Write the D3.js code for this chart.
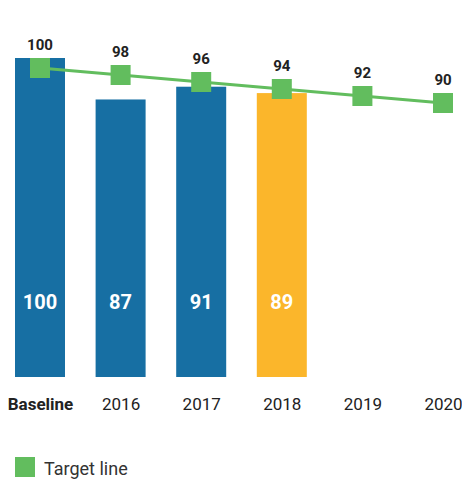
<!DOCTYPE html>
<html>
<head>
<meta charset="utf-8">
<script src="https://cdn.jsdelivr.net/npm/d3@7"></script>
<style>
    body { margin: 0; background: #fff; }
    text { font-family: Roboto, "Noto Sans", sans-serif; }
</style>
</head>
<body>
<div id="chart"></div>
<script>
// data
const categories = ["Baseline", "2016", "2017", "2018", "2019", "2020"];
const actual = [100, 87, 91, 89];
const target = [100, 98, 96, 94, 92, 90];
const highlight = "2018";

const width = 462, height = 479;

const svg = d3.select("#chart").append("svg")
    .attr("width", width)
    .attr("height", height);

// scales
let x = d3.scalePoint().domain(categories).range([40, 443]);
let y = d3.scaleLinear().domain([0, 100]).range([377, 58]);
// target markers sit on their own, slightly steeper scale
let yT = d3.scaleLinear().domain([0, 100]).range([418, 68]);

const barW = 50;

// bars
svg.append("g").selectAll("rect")
    .data(actual)
    .join("rect")
    .attr("x", (d, i) => x(categories[i]) - barW / 2)
    .attr("y", d => y(d))
    .attr("width", barW)
    .attr("height", d => y(0) - y(d))
    .attr("fill", (d, i) => categories[i] === highlight ? "#fbb62b" : "#176fa3");

// values inside bars
svg.append("g").selectAll("text")
    .data(actual)
    .join("text")
    .attr("x", (d, i) => x(categories[i]))
    .attr("y", 309)
    .attr("text-anchor", "middle")
    .attr("fill", "#fff")
    .style("font-size", "20px")
    .style("font-weight", "bold")
    .text(d => d);

// target line
let line = d3.line()
    .x((d, i) => x(categories[i]))
    .y(d => yT(d));

svg.append("path")
    .datum(target)
    .attr("d", line)
    .attr("fill", "none")
    .attr("stroke", "#62bd5e")
    .attr("stroke-width", 3);

svg.append("g").selectAll("rect")
    .data(target)
    .join("rect")
    .attr("x", (d, i) => x(categories[i]) - 10)
    .attr("y", d => yT(d) - 10)
    .attr("width", 20)
    .attr("height", 20)
    .attr("fill", "#62bd5e");

svg.append("g").selectAll("text")
    .data(target)
    .join("text")
    .attr("x", (d, i) => x(categories[i]))
    .attr("y", d => yT(d) - 18)
    .attr("text-anchor", "middle")
    .attr("fill", "#222")
    .style("font-size", "15px")
    .style("font-weight", "bold")
    .text(d => d);

// x axis labels
let xAxis = d3.axisBottom(x).tickSize(0).tickPadding(0);
let gx = svg.append("g")
    .attr("transform", "translate(0,398)")
    .call(xAxis);
gx.select(".domain").remove();
gx.selectAll("text")
    .attr("dy", "0.35em")
    .attr("y", 6)
    .attr("fill", "#222")
    .style("font-size", "17px")
    .style("font-weight", d => d === "Baseline" ? "bold" : "normal");

// legend
let legend = svg.append("g").attr("transform", "translate(15,457)");
legend.append("rect")
    .attr("width", 20)
    .attr("height", 20)
    .attr("fill", "#62bd5e");
legend.append("text")
    .attr("x", 29)
    .attr("y", 18)
    .attr("fill", "#333")
    .style("font-size", "18px")
    .text("Target line");
</script>
</body>
</html>
